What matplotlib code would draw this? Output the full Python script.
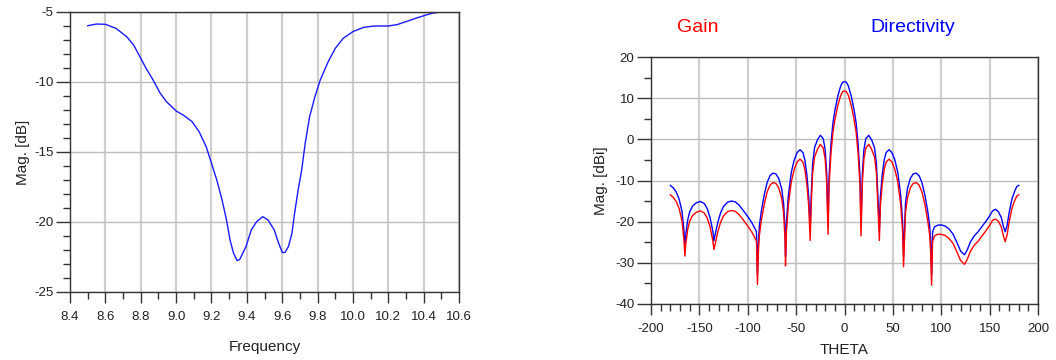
import numpy as np
import matplotlib
matplotlib.use("Agg")
import matplotlib.pyplot as plt
from matplotlib.ticker import MultipleLocator, FormatStrFormatter

plt.rcParams['font.family'] = ['Liberation Sans', 'DejaVu Sans']
plt.rcParams['axes.unicode_minus'] = False

# S11 vs frequency (left panel)
freq = [8.50, 8.55, 8.60, 8.66, 8.72, 8.76, 8.80, 8.83, 8.87, 8.91, 8.945, 9.00,
        9.04, 9.09, 9.13, 9.17, 9.20, 9.23, 9.26, 9.285, 9.305, 9.325, 9.345, 9.36,
        9.395, 9.425, 9.455, 9.49, 9.52, 9.555, 9.58, 9.60, 9.615, 9.635, 9.655,
        9.67, 9.69, 9.71, 9.73, 9.755, 9.785, 9.815, 9.86, 9.90, 9.945, 10.00,
        10.06, 10.12, 10.20, 10.25, 10.30, 10.36, 10.42, 10.455, 10.50]
s11 = [-5.98, -5.86, -5.88, -6.17, -6.76, -7.36, -8.31, -9.02, -9.86, -10.8, -11.4,
       -12.07, -12.36, -12.83, -13.55, -14.62, -15.8, -17.0, -18.43, -19.86, -21.29,
       -22.24, -22.76, -22.67, -21.76, -20.57, -19.98, -19.62, -19.86, -20.57,
       -21.52, -22.17, -22.19, -21.76, -20.81, -19.38, -17.71, -16.29, -14.38,
       -12.48, -11.05, -9.86, -8.55, -7.6, -6.88, -6.4, -6.1, -6.0, -6.0, -5.9,
       -5.69, -5.43, -5.19, -5.07, -5.0]

# radiation pattern (right panel)
theta = [-180, -177, -174, -171, -168, -166, -165, -164, -162, -160, -157, -153, -149,
         -145, -142, -139, -136, -135, -134, -131, -128, -125, -121, -117, -113, -109,
         -105, -100, -96, -93, -91, -90, -89, -88, -86, -83, -80, -77, -74, -71, -68,
         -65, -63, -61.5, -61, -60, -58, -55, -52, -49, -46, -43, -41, -39, -37, -35.5,
         -34.5, -33, -31, -28, -25, -22, -20, -18.5, -17, -16, -14, -12, -10, -7, -4,
         -2, 0,
         2, 4, 7, 10, 12, 14, 16, 17, 18.5, 20, 22, 25, 28, 31, 33, 34.5, 36, 37, 39,
         41, 43, 46, 49, 52, 55, 58, 60, 61, 62, 63, 65, 68, 71, 74, 77, 80, 83, 86,
         88, 89, 90, 91, 93, 96, 100, 104, 108, 112, 116, 120, 124, 127, 130, 134,
         138, 142, 146, 150, 153, 156, 159, 162, 164, 166, 168, 170, 173, 176, 178, 180]

directivity = [-11.2, -11.8, -12.8, -14.5, -17.5, -22, -26.3, -23, -19.5, -17.6, -16.2,
               -15.4, -15.1, -15.6, -16.8, -19, -22.5, -24.7, -23.5, -20.2, -17.8, -16.3,
               -15.3, -15.0, -15.2, -16, -17.2, -18.8, -20.2, -21.5, -22.5, -33, -25, -21,
               -17.5, -13.5, -10.5, -8.8, -8.2, -8.4, -9.5, -12, -15.5, -22, -28.5, -20,
               -13.5, -8, -5, -3.2, -2.5, -3.2, -5, -8.5, -14, -22.2, -14, -6, -2, -0.1,
               1.0, 0.2, -2.5, -8, -21, -9, -1, 4, 7, 10.5, 13, 13.9, 14.1,
               13.9, 13, 10.5, 7, 4, -1, -9, -21, -8, -2.5, 0.2, 1.0, -0.1, -2, -6, -14,
               -22.2, -14, -8.5, -5, -3.2, -2.5, -3.2, -5, -8, -13.5, -20, -28.5, -22,
               -15.5, -12, -9.5, -8.4, -8.2, -8.8, -10.5, -13.5, -17.5, -21, -25, -33,
               -22.5, -21.3, -20.9, -20.8, -21.1, -21.8, -23, -25, -27.2, -28.1, -26.8,
               -25, -23.5, -22.5, -21.2, -20, -18.6, -17.4, -17, -17.6, -19, -21, -22.5,
               -21, -18, -14.5, -12.5, -11.5, -11.2]

gain = [-13.5, -14.1, -15.1, -16.8, -19.8, -24.3, -28.4, -25.3, -21.8, -19.9, -18.5,
        -17.7, -17.4, -17.9, -19.1, -21.3, -24.8, -26.8, -25.8, -22.5, -20.1, -18.6,
        -17.6, -17.3, -17.5, -18.3, -19.5, -21.1, -22.5, -23.8, -24.8, -35.3, -27.3,
        -23.3, -19.8, -15.8, -12.8, -11.1, -10.5, -10.7, -11.8, -14.3, -17.8, -24.3,
        -30.8, -22.3, -15.8, -10.3, -7.3, -5.5, -4.8, -5.5, -7.3, -10.8, -16.3, -24.6,
        -16.3, -8.3, -4.3, -2.4, -1.2, -2.1, -4.8, -10.3, -23.1, -11.3, -3.3, 1.7, 4.7,
        8.2, 10.7, 11.6, 11.8,
        11.6, 10.7, 8.2, 4.7, 1.7, -3.3, -11.3, -23.5, -10.3, -4.8, -2.1, -1.2, -2.4,
        -4.3, -8.3, -16.3, -24.6, -16.3, -10.8, -7.3, -5.5, -4.8, -5.5, -7.3, -10.3,
        -15.8, -22.3, -31, -24.3, -17.8, -14.3, -11.8, -10.7, -10.5, -11.1, -12.8,
        -15.8, -19.8, -23.3, -27.3, -35.5, -24.8, -23.5, -23.1, -23.1, -23.4, -24.1,
        -25.3, -27.3, -29.5, -30.4, -29.1, -27.3, -25.8, -24.8, -23.5, -22.3, -20.9,
        -19.7, -19.4, -19.9, -21.3, -23.3, -24.9, -23.3, -20.3, -16.8, -14.8, -13.8,
        -13.5]

TXT = '#222222'


def style_axes(ax):
    ax.grid(True, which='major', axis='x', color='#cfcfcf', linewidth=1.6)
    ax.grid(True, which='major', axis='y', color='#bdbdbd', linewidth=1.0)
    ax.set_axisbelow(True)
    for sp in ax.spines.values():
        sp.set_color('#333333')
        sp.set_linewidth(1.0)
    ax.tick_params(which='major', direction='out', length=8, width=1,
                   color='#333333', labelcolor=TXT, labelsize=9.5)
    ax.tick_params(which='minor', direction='out', length=5, width=1,
                   color='#333333')
    ax.tick_params(axis='x', which='major', pad=6)
    ax.tick_params(axis='y', which='major', length=10, pad=2)


fig = plt.figure(figsize=(10.56, 3.6), dpi=100)

# left panel
ax1 = fig.add_axes([0.0663, 0.1889, 0.3684, 0.7778])
ax1.plot(freq, s11, color='#1a1aff', linewidth=1.0)
ax1.set_xlim(8.4, 10.6)
ax1.set_ylim(-25, -5)
ax1.xaxis.set_major_locator(MultipleLocator(0.2))
ax1.xaxis.set_minor_locator(MultipleLocator(0.1))
ax1.xaxis.set_major_formatter(FormatStrFormatter('%.1f'))
ax1.yaxis.set_major_locator(MultipleLocator(5))
ax1.yaxis.set_minor_locator(MultipleLocator(1))
style_axes(ax1)
ax1.set_xlabel('Frequency', fontsize=11, color=TXT, labelpad=12)
ax1.set_ylabel('Mag. [dB]', fontsize=11, color=TXT, labelpad=3)

# right panel
ax2 = fig.add_axes([0.6165, 0.1564, 0.3665, 0.6844])
ax2.plot(theta, directivity, color='#0000ff', linewidth=1.0)
ax2.plot(theta, gain, color='#ff0000', linewidth=1.0)
ax2.set_xlim(-200, 200)
ax2.set_ylim(-40, 20)
ax2.xaxis.set_major_locator(MultipleLocator(50))
ax2.xaxis.set_minor_locator(MultipleLocator(10))
ax2.yaxis.set_major_locator(MultipleLocator(10))
ax2.yaxis.set_minor_locator(MultipleLocator(5))
style_axes(ax2)
ax2.set_xlabel('THETA', fontsize=11, color=TXT, labelpad=6)
ax2.set_ylabel('Mag. [dBi]', fontsize=11, color=TXT, labelpad=5)

fig.text(698 / 1056, 1 - 28 / 360, 'Gain', color='#ff0000', fontsize=14,
         ha='center', va='center')
fig.text(913 / 1056, 1 - 28 / 360, 'Directivity', color='#0000ff', fontsize=14,
         ha='center', va='center')

fig.savefig('out.png', dpi=100)
